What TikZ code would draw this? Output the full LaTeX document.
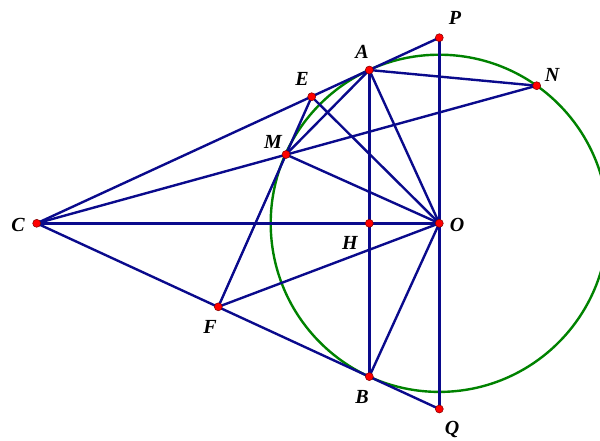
\documentclass[tikz,border=0pt]{standalone}
\usepackage{fontspec}
\setmainfont{Liberation Serif}
\definecolor{navy}{RGB}{10,10,140}
\definecolor{circgreen}{RGB}{0,130,0}
\begin{document}
\begin{tikzpicture}[x=1pt,y=-1pt,
  seg/.style={draw=navy, line width=2.4pt},
  circ/.style={draw=circgreen, line width=2.4pt},
  dot/.style={circle, fill=red, draw=red!50!black, line width=0.5pt, inner sep=0pt, minimum size=8pt},
  lab/.style={font=\bfseries\itshape\fontsize{20}{20}\selectfont, inner sep=0pt}]
\useasboundingbox (0,0) rectangle (600,440);
\clip (0,0) rectangle (600,440);
\coordinate (C) at (36.7,223.3);
\coordinate (O) at (439.3,223.3);
\coordinate (H) at (369.3,223.3);
\coordinate (A) at (369.3,70);
\coordinate (B) at (369.3,376.6);
\coordinate (P) at (439.3,37.7);
\coordinate (Q) at (439.3,409.0);
\coordinate (E) at (311.7,96.7);
\coordinate (M) at (286,154.5);
\coordinate (N) at (536.7,85.7);
\coordinate (F) at (218.3,306.8);
% circle
\draw[circ] (O) circle (168.6);
% lines
\draw[seg] (C) -- (P);
\draw[seg] (C) -- (Q);
\draw[seg] (C) -- (O);
\draw[seg] (C) -- (N);
\draw[seg] (P) -- (Q);
\draw[seg] (A) -- (B);
\draw[seg] (A) -- (N);
\draw[seg] (A) -- (O);
\draw[seg] (A) -- (M);
\draw[seg] (E) -- (M);
\draw[seg] (E) -- (O);
\draw[seg] (M) -- (O);
\draw[seg] (M) -- (F);
\draw[seg] (F) -- (O);
\draw[seg] (B) -- (O);
% points
\foreach \p in {C,O,H,A,B,P,Q,E,M,N,F} \node[dot] (d\p) at (\p) {};
% labels
\node[lab] (lP) at (455,18) {P};
\node[lab] (lA) at (362,52) {A};
\node[lab] (lE) at (302,79) {E};
\node[lab] (lN) at (552,75) {N};
\node[lab] (lM) at (273,142) {M};
\node[lab] (lC) at (18,225) {C};
\node[lab] (lH) at (350,243) {H};
\node[lab] (lO) at (457,225) {O};
\node[lab] (lF) at (210,327) {F};
\node[lab] (lB) at (362,397) {B};
\node[lab] (lQ) at (452,429) {Q};
\end{tikzpicture}
\end{document}
